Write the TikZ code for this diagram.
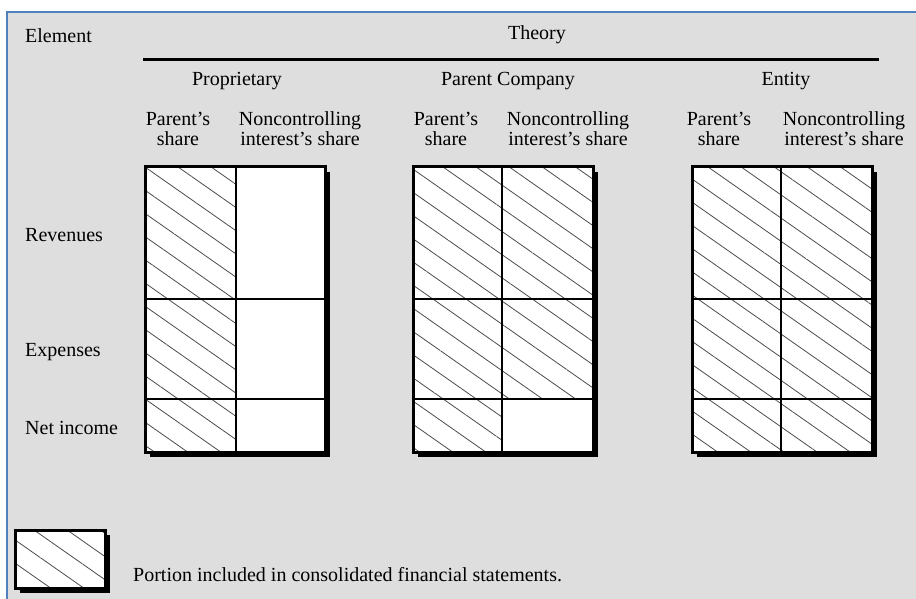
\documentclass[tikz,border=0pt]{standalone}
\usepackage{fontspec}
\setmainfont{Liberation Serif}
\usetikzlibrary{patterns.meta}
\definecolor{panelgray}{HTML}{DEDEDE}
\definecolor{frameblue}{HTML}{4F81BD}

\begin{document}
\begin{tikzpicture}[x=1pt, y=-1pt,
  every node/.style={font=\fontsize{20}{20}\selectfont, inner sep=0pt},
  hatch/.style={pattern={Lines[angle=-35,distance=19pt,line width=0.8pt]}, pattern color=black!70},
  boxshadow/.style={fill=black},
  boxframe/.style={line width=3pt},
  boxgrid/.style={line width=1.6pt}]

  \useasboundingbox (0,0) rectangle (916,599);
  \fill[white] (0,0) rectangle (916,599);
  \fill[panelgray] (7,12) rectangle (916,599);
  \draw[frameblue, line width=2pt] (7,599) -- (7,12) -- (916,12);

  % Headings

  \node[anchor=west] (element) at (25,36) {Element};
  \node (theory) at (537,35) {Theory};
  \coordinate (ruleL) at (143,60);
  \coordinate (ruleR) at (879,60);
  \draw[line width=3pt] (ruleL) -- (ruleR);

  % Row labels

  \node[anchor=west] (rev) at (25,235) {Revenues};
  \node[anchor=west] (exp) at (25,352) {Expenses};
  \node[anchor=west] (net) at (25,428) {Net income};

  % Proprietary

  \node (prop) at (237,81) {Proprietary};
  \node[align=center] (propP) at (178,129) {Parent's\\share};
  \node[align=center] (propN) at (300,129) {Noncontrolling\\interest's share};

  \fill[boxshadow] (150,172) rectangle (330,457);
  \fill[white] (145,167) rectangle (325,452);
  \fill[hatch] (145,167) rectangle (236,452);
  \draw[boxgrid] (236,167) -- (236,452);
  \draw[boxgrid] (145,299) -- (325,299);
  \draw[boxgrid] (145,399) -- (325,399);
  \draw[boxframe] (145,167) rectangle (325,452);

  % Parent Company

  \node (parco) at (508,81) {Parent Company};
  \node[align=center] (parcoP) at (446,129) {Parent's\\share};
  \node[align=center] (parcoN) at (568,129) {Noncontrolling\\interest's share};

  \fill[boxshadow] (418,172) rectangle (598,457);
  \fill[white] (413,167) rectangle (593,452);
  \fill[hatch] (413,167) rectangle (593,399);
  \fill[hatch] (413,399) rectangle (502,452);
  \draw[boxgrid] (502,167) -- (502,452);
  \draw[boxgrid] (413,299) -- (593,299);
  \draw[boxgrid] (413,399) -- (593,399);
  \draw[boxframe] (413,167) rectangle (593,452);

  % Entity

  \node (ent) at (786,81) {Entity};
  \node[align=center] (entP) at (719,129) {Parent's\\share};
  \node[align=center] (entN) at (844,129) {Noncontrolling\\interest's share};

  \fill[boxshadow] (697,172) rectangle (877,457);
  \fill[white] (692,167) rectangle (872,452);
  \fill[hatch] (692,167) rectangle (872,452);
  \draw[boxgrid] (781,167) -- (781,452);
  \draw[boxgrid] (692,299) -- (872,299);
  \draw[boxgrid] (692,399) -- (872,399);
  \draw[boxframe] (692,167) rectangle (872,452);

  % Legend

  \fill[boxshadow] (20,535) rectangle (110,593);
  \fill[white] (15,530) rectangle (105,588);
  \fill[hatch] (15,530) rectangle (105,588);
  \draw[boxframe] (15,530) rectangle (105,588);
  \node[anchor=west] (legend) at (133,575) {Portion included in consolidated financial statements.};

\end{tikzpicture}
\end{document}
